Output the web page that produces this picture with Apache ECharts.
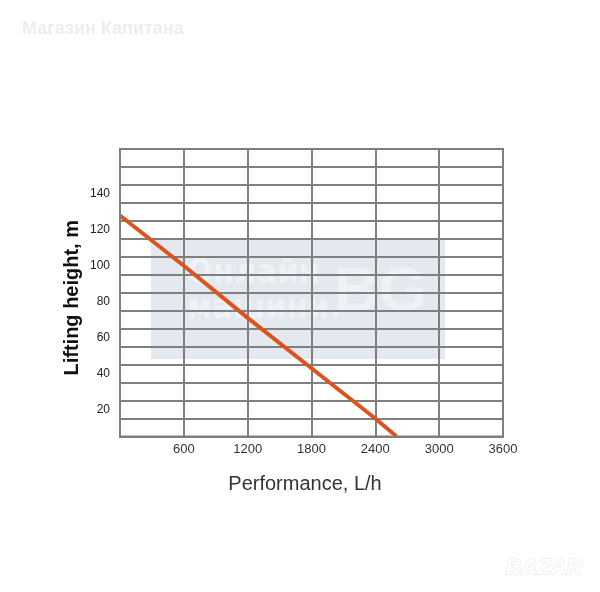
<!DOCTYPE html>
<html>
<head>
<meta charset="utf-8">
<script src="https://cdn.jsdelivr.net/npm/echarts@6/dist/echarts.min.js"></script>
<style>
html,body{margin:0;padding:0;background:#fff;}
#chart{width:600px;height:592px;}
</style>
</head>
<body>
<div id="chart"></div>
<script>
// Data
const flowLh = [0, 600, 1200, 1800, 2400, 2600];      // Performance, L/h
const headM  = [128, 100, 71, 43, 15, 5];             // Lifting height, m
const xTickLabels = [600, 1200, 1800, 2400, 3000, 3600];
const yTickLabels = [20, 40, 60, 80, 100, 120, 140];

const seriesData = flowLh.map((x, i) => [x, headM[i]]);
const font = 'Arial, "Liberation Sans", sans-serif';
const narrow = '"Liberation Sans Narrow", "DejaVu Sans Condensed", Arial, sans-serif';
const gridColor = '#7f7f7f';

const chart = echarts.init(document.getElementById('chart'), null, {renderer: 'canvas'});
chart.setOption({
  backgroundColor: '#ffffff',
  animation: false,
  graphic: [
    {type: 'text', left: 22, top: 20, z: 0,
     style: {text: 'Магазин Капитана', font: 'bold 18px ' + font, fill: '#ededed'}},
    {type: 'rect', shape: {x: 151, y: 239, width: 294, height: 120}, z: -10, silent: true,
     style: {fill: '#e4e9f0'}},
    {type: 'text', left: 187, top: 257, z: -9,
     style: {text: 'Онлайн', font: 'bold 34px ' + narrow, fill: '#eef1f5'}},
    {type: 'text', left: 187, top: 292, z: -9,
     style: {text: 'машини.', font: 'bold 34px ' + narrow, fill: '#eef1f5'}},
    {type: 'text', left: 334, top: 262, z: -9,
     style: {text: 'BG', font: 'bold 62px ' + font, fill: '#eef1f5'}},
    {type: 'text', left: 505, top: 556, z: 0,
     style: {text: 'BAZAR', font: 'bold italic 22px ' + font, fill: '#ffffff', stroke: '#e4e4e4', lineWidth: 1}},
    {type: 'rect', shape: {x: 120, y: 149, width: 383, height: 287.5}, z: 5, silent: true,
     style: {fill: 'none', stroke: gridColor, lineWidth: 2}}
  ],
  grid: {left: 120, right: 97, top: 149, bottom: 155.5, show: false},
  xAxis: {
    type: 'value', min: 0, max: 3600, interval: 600,
    name: 'Performance, L/h', nameLocation: 'middle', nameGap: 38, nameMoveOverlap: false,
    nameTextStyle: {fontFamily: font, fontSize: 20, color: '#333', padding: [0, 13, 0, 0]},
    axisLine: {show: true, lineStyle: {color: gridColor, width: 2}},
    axisTick: {show: false},
    axisLabel: {margin: 6, fontFamily: font, fontSize: 13, color: '#333',
      formatter: v => xTickLabels.includes(v) ? String(v) : ''},
    splitLine: {show: true, lineStyle: {color: gridColor, width: 2}}
  },
  yAxis: [
    {
      type: 'value', min: 0, max: 160, interval: 10,
      name: 'Lifting height, m', nameLocation: 'middle', nameGap: 38, nameMoveOverlap: false,
      nameTextStyle: {fontFamily: font, fontSize: 20, fontWeight: 'bold', color: '#111', padding: [0, 10, 0, 0]},
      axisLine: {show: true, lineStyle: {color: gridColor, width: 2}},
      axisTick: {show: false},
      axisLabel: {margin: 10, fontFamily: font, fontSize: 12, color: '#222',
        verticalAlign: 'top', lineHeight: 14, padding: [2, 0, 0, 0],
        formatter: v => yTickLabels.includes(v) ? String(v) : ''},
      splitLine: {show: true, lineStyle: {color: gridColor, width: 2}}
    },
    {type: 'value', min: 5, max: 165, show: false, splitLine: {show: false}}
  ],
  series: [{
    type: 'line', yAxisIndex: 1, data: seriesData,
    symbol: 'none', smooth: false, clip: false,
    lineStyle: {color: '#d9541e', width: 4}
  }]
});
</script>
</body>
</html>
